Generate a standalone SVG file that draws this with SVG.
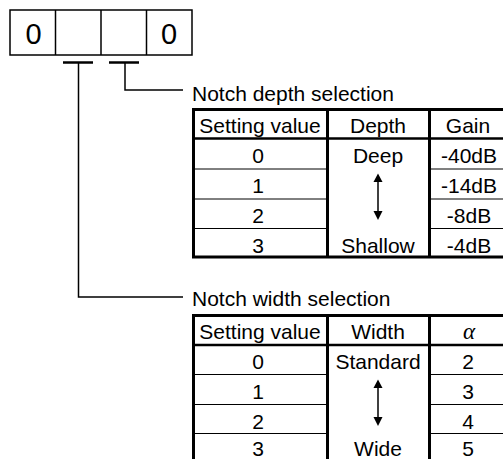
<svg xmlns="http://www.w3.org/2000/svg" width="503" height="459" viewBox="0 0 503 459">
<defs>
<style>
text{font-family:"Liberation Sans",Arial,sans-serif;font-size:21px;fill:#000}
.c{text-anchor:middle}
.big{font-size:29px}
.alpha{font-family:"Liberation Serif","Times New Roman",serif;font-style:italic;font-size:23px}
.thick{stroke:#000;stroke-width:3;fill:none}
.hdr{stroke:#000;stroke-width:2.5;fill:none}
.thin{stroke:#000;stroke-width:1;fill:none}
.box{stroke:#000;stroke-width:1.5;fill:#fff}
.bar{stroke:#000;stroke-width:2.5}
.lead{stroke:#000;stroke-width:1.5;fill:none}
.arr{fill:#000}
</style>
</defs>
<rect width="503" height="459" fill="#fff"/>

<g id="param-box">
<rect class="box" x="10" y="10" width="182" height="45"/>
<line class="box" x1="55.5" y1="10" x2="55.5" y2="55"/>
<line class="box" x1="101" y1="10" x2="101" y2="55"/>
<line class="box" x1="146.5" y1="10" x2="146.5" y2="55"/>
<text class="c big" x="33.5" y="43.5">0</text>
<text class="c big" x="169" y="43.5">0</text>
</g>

<g id="connectors">
<line class="bar" x1="63" y1="62.5" x2="93" y2="62.5"/>
<line class="bar" x1="109" y1="62.5" x2="139" y2="62.5"/>
<polyline class="lead" points="125,63 125,90 183,90"/>
<polyline class="lead" points="78.5,63 78.5,297 183,297"/>
</g>

<g id="depth-table">
<text x="192" y="101">Notch depth selection</text>
<polyline class="thick" points="510,109.5 193.5,109.5 193.5,257 510,257"/>
<line class="hdr" x1="193" y1="138.5" x2="510" y2="138.5"/>
<line class="thick" x1="327.5" y1="109.5" x2="327.5" y2="258"/>
<line class="thick" x1="429.5" y1="109.5" x2="429.5" y2="258"/>
<line class="thin" x1="193" y1="169" x2="327" y2="169"/>
<line class="thin" x1="193" y1="199" x2="327" y2="199"/>
<line class="thin" x1="193" y1="228.5" x2="327" y2="228.5"/>
<line class="thin" x1="430" y1="169" x2="510" y2="169"/>
<line class="thin" x1="430" y1="199" x2="510" y2="199"/>
<line class="thin" x1="430" y1="228.5" x2="510" y2="228.5"/>
<text class="c" x="260" y="133">Setting value</text>
<text class="c" x="378" y="133">Depth</text>
<text class="c" x="468" y="133">Gain</text>
<text class="c" x="258" y="163">0</text>
<text class="c" x="258" y="193">1</text>
<text class="c" x="258" y="223">2</text>
<text class="c" x="258" y="253">3</text>
<text class="c" x="378" y="163">Deep</text>
<text class="c" x="378" y="253">Shallow</text>
<text class="c" x="469" y="163">-40dB</text>
<text class="c" x="469" y="193">-14dB</text>
<text class="c" x="469" y="223">-8dB</text>
<text class="c" x="469" y="253">-4dB</text>
<line class="lead" x1="378" y1="180" x2="378" y2="212"/>
<polygon class="arr" points="378,173.5 373.5,182 382.5,182"/>
<polygon class="arr" points="378,220 373.5,211 382.5,211"/>
</g>

<g id="width-table">
<text x="192" y="306">Notch width selection</text>
<polyline class="thick" points="510,315.5 193.5,315.5 193.5,470"/>
<line class="hdr" x1="193" y1="345" x2="510" y2="345"/>
<line class="thick" x1="327.5" y1="315.5" x2="327.5" y2="470"/>
<line class="thick" x1="429.5" y1="315.5" x2="429.5" y2="470"/>
<line class="thin" x1="193" y1="374.5" x2="327" y2="374.5"/>
<line class="thin" x1="193" y1="404.5" x2="327" y2="404.5"/>
<line class="thin" x1="193" y1="433.5" x2="327" y2="433.5"/>
<line class="thin" x1="430" y1="374.5" x2="510" y2="374.5"/>
<line class="thin" x1="430" y1="404.5" x2="510" y2="404.5"/>
<line class="thin" x1="430" y1="433.5" x2="510" y2="433.5"/>
<text class="c" x="260" y="339">Setting value</text>
<text class="c" x="378" y="339">Width</text>
<text class="c alpha" x="469" y="339">α</text>
<text class="c" x="258" y="369">0</text>
<text class="c" x="258" y="399">1</text>
<text class="c" x="258" y="428.5">2</text>
<text class="c" x="258" y="456">3</text>
<text class="c" x="378" y="369">Standard</text>
<text class="c" x="378" y="456">Wide</text>
<text class="c" x="468" y="369">2</text>
<text class="c" x="468" y="399">3</text>
<text class="c" x="468" y="428.5">4</text>
<text class="c" x="468" y="456">5</text>
<line class="lead" x1="378" y1="386" x2="378" y2="418"/>
<polygon class="arr" points="378,379.5 373.5,388 382.5,388"/>
<polygon class="arr" points="378,426 373.5,417 382.5,417"/>
</g>
</svg>
